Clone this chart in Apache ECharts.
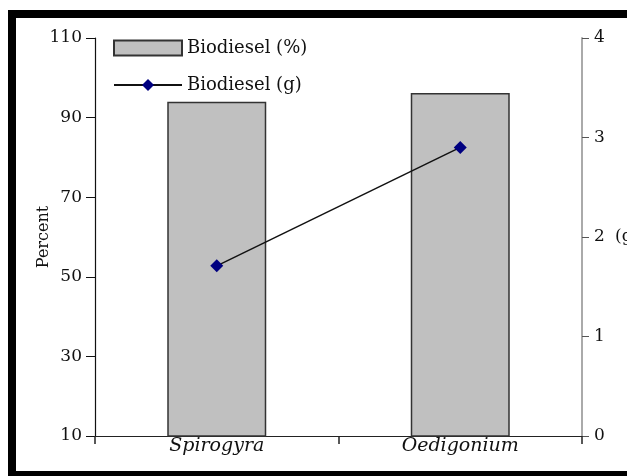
<!DOCTYPE html>
<html>
<head>
<meta charset="utf-8">
<script src="https://cdn.jsdelivr.net/npm/echarts@6/dist/echarts.min.js"></script>
<style>
  html, body { margin: 0; padding: 0; background: #fff; }
  #chart { width: 627px; height: 476px; }
</style>
</head>
<body>
<div id="chart"></div>
<script>
const categories = ['Spirogyra', 'Oedigonium'];
const biodieselPercent = [94, 96.2];
const biodieselGrams = [1.71, 2.9];
const percentTicks = [10, 110, 20];  // min, max, interval
const gramTicks = [0, 4, 1];

const serif = '"DejaVu Serif", "Liberation Serif", serif';

const chart = echarts.init(document.getElementById('chart'));
const option = {
  backgroundColor: '#fff',
  animation: false,
  graphic: [{
    type: 'rect',
    shape: { x: 12, y: 14, width: 700, height: 461 },
    style: { fill: 'none', stroke: '#000', lineWidth: 8 },
    silent: true,
    z: 100
  }],
  grid: { left: 95, right: 45, top: 38, bottom: 40, outerBoundsMode: 'none' },
  legend: {
    orient: 'vertical',
    left: 108,
    top: 34,
    itemWidth: 68,
    itemHeight: 15,
    itemGap: 19,
    textStyle: { fontFamily: serif, fontSize: 18, color: '#111' },
    data: [{ name: 'Biodiesel (%)', icon: 'rect' }, { name: 'Biodiesel (g)' }]
  },
  xAxis: {
    type: 'category',
    data: categories,
    axisLine: { lineStyle: { color: '#222', width: 1.2 } },
    axisTick: { show: true, length: 8, lineStyle: { color: '#222', width: 1.5 } },
    axisLabel: { fontFamily: serif, fontStyle: 'italic', fontSize: 19, color: '#111', margin: 1 }
  },
  yAxis: [{
    type: 'value',
    min: percentTicks[0],
    max: percentTicks[1],
    interval: percentTicks[2],
    name: 'Percent',
    nameLocation: 'middle',
    nameGap: 43,
    nameMoveOverlap: false,
    nameRotate: 90,
    nameTextStyle: { fontFamily: serif, fontSize: 16, color: '#111' },
    axisLine: { show: true, lineStyle: { color: '#111', width: 1.2 } },
    axisTick: { show: true, length: 9, lineStyle: { color: '#111' } },
    axisLabel: { fontFamily: serif, fontSize: 17, color: '#111', margin: 13 },
    splitLine: { show: false }
  }, {
    type: 'value',
    min: gramTicks[0],
    max: gramTicks[1],
    interval: gramTicks[2],
    position: 'right',
    name: '(g)',
    nameLocation: 'middle',
    nameGap: 33,
    nameRotate: 0,
    nameTextStyle: { fontFamily: serif, fontSize: 17, color: '#111', align: 'left' },
    axisLine: { show: true, lineStyle: { color: '#aaa', width: 2 } },
    axisTick: { show: true, length: 7, lineStyle: { color: '#555' } },
    axisLabel: { fontFamily: serif, fontSize: 17, color: '#111', margin: 12 },
    splitLine: { show: false }
  }],
  series: [{
    name: 'Biodiesel (%)',
    type: 'bar',
    data: biodieselPercent,
    barWidth: 99,
    itemStyle: { color: '#c0c0c0', borderColor: '#333', borderWidth: 1.5 }
  }, {
    name: 'Biodiesel (g)',
    type: 'line',
    yAxisIndex: 1,
    data: biodieselGrams,
    symbol: 'diamond',
    symbolSize: 13,
    lineStyle: { color: '#111', width: 1.5 },
    itemStyle: { color: '#000080' }
  }]
};
chart.setOption(option);
</script>
</body>
</html>
